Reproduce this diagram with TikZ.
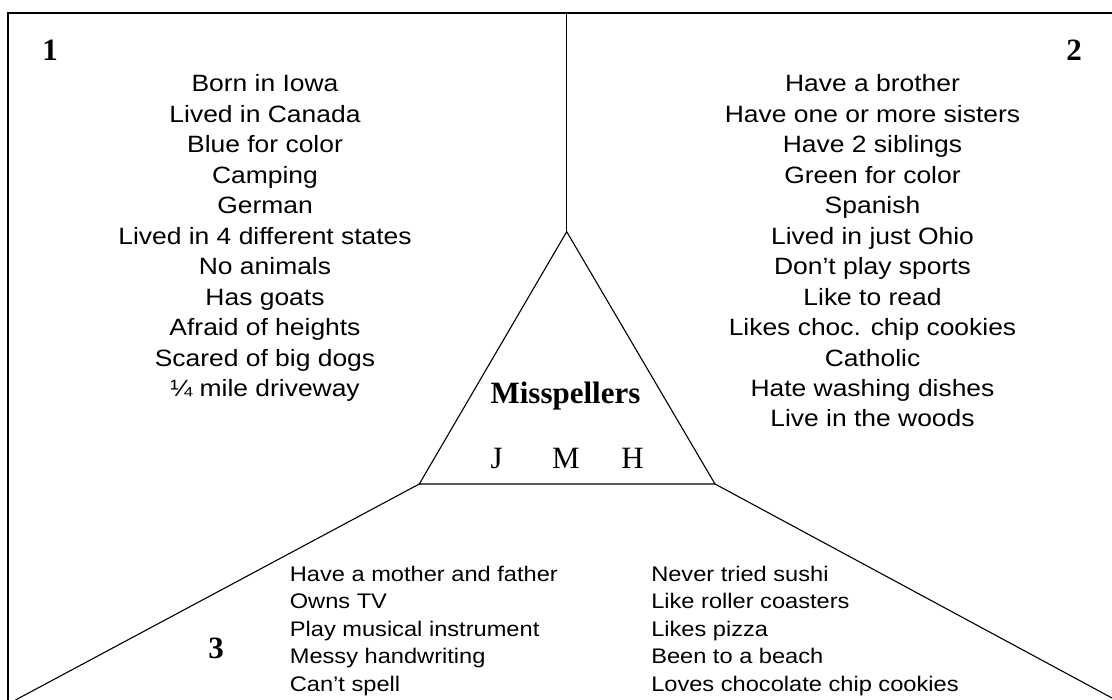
\documentclass[tikz,border=0pt]{standalone}
\usepackage{fontspec}
\newfontfamily\listfont[FakeStretch=1.12]{Liberation Sans}
\newfontfamily\serf{Liberation Serif}
\begin{document}
\begin{tikzpicture}[x=1pt,y=-1pt,line width=1.1pt,
  toplist/.style={anchor=base,inner sep=0pt,font=\listfont\fontsize{23.6}{28}\selectfont},
  botlist/.style={anchor=base west,inner sep=0pt,font=\listfont\fontsize{21.1}{25}\selectfont},
  numlabel/.style={anchor=base,inner sep=0pt,font=\serf\bfseries\fontsize{31}{36}\selectfont},
  titlelabel/.style={anchor=base,inner sep=0pt,font=\serf\bfseries\fontsize{31}{36}\selectfont},
  initlabel/.style={anchor=base,inner sep=0pt,font=\serf\fontsize{31}{36}\selectfont},
  edge/.style={draw=black,line width=1.1pt}]
\useasboundingbox (0,0) rectangle (1112,700);
% frame and dividing lines
\coordinate (tl) at (8,13);
\coordinate (tr) at (1112,13);
\coordinate (bl) at (8,700);
\coordinate (vtop) at (566.7,13);
\coordinate (apex) at (566.7,231.7);
\coordinate (bL) at (419.3,484);
\coordinate (bR) at (715,484);
\coordinate (endL) at (15.5,700);
\coordinate (endR) at (1112,698);
\draw[edge] (tr) -- (tl) -- (bl);
\draw[edge] (vtop) -- (apex);
\draw[edge] (apex) -- (bL) -- (bR) -- cycle;
\draw[edge] (bL) -- (endL);
\draw[edge] (bR) -- (endR);
% numbers
\node[numlabel] (n1) at (50,61) {1};
\node[numlabel] (n2) at (1074,61) {2};
\node[numlabel] (n3) at (216,658) {3};
% triangle text
\node[titlelabel] (title) at (565.5,403.3) {Misspellers};
\node[initlabel] (iJ) at (496.7,468.3) {J};
\node[initlabel] (iM) at (566,468.3) {M};
\node[initlabel] (iH) at (632.5,468.3) {H};
% region 1
\foreach \t [count=\i from 0] in {Born in Iowa,Lived in Canada,Blue for color,Camping,German,Lived in 4 different states,No animals,Has goats,Afraid of heights,Scared of big dogs,¼ mile driveway}
  \node[toplist] (L\i) at (265,{92+30.45*\i}) {\t};
% region 2
\foreach \t [count=\i from 0] in {Have a brother,Have one or more sisters,Have 2 siblings,Green for color,Spanish,Lived in just Ohio,Don’t play sports,Like to read,Likes choc. chip cookies,Catholic,Hate washing dishes,Live in the woods}
  \node[toplist] (R\i) at (872.5,{92+30.45*\i}) {\t};
% region 3
\foreach \t [count=\i from 0] in {Have a mother and father,Owns TV,Play musical instrument,Messy handwriting,Can’t spell}
  \node[botlist] (B\i) at (289.3,{581+27.5*\i}) {\t};
\foreach \t [count=\i from 0] in {Never tried sushi,Like roller coasters,Likes pizza,Been to a beach,Loves chocolate chip cookies}
  \node[botlist] (C\i) at (650.7,{581+27.5*\i}) {\t};
\end{tikzpicture}
\end{document}
